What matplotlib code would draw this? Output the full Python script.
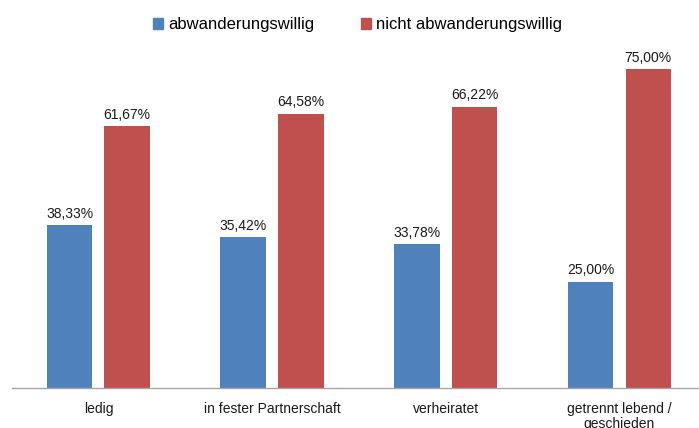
import numpy as np
import matplotlib
matplotlib.use("Agg")
import matplotlib.pyplot as plt
from matplotlib.patches import Patch

plt.rcParams["font.family"] = ["Liberation Sans", "DejaVu Sans"]

categories = ["ledig", "in fester Partnerschaft", "verheiratet",
              "getrennt lebend /\ngeschieden"]
series_names = ["abwanderungswillig", "nicht abwanderungswillig"]
willing = [38.33, 35.42, 33.78, 25.00]
not_willing = [61.67, 64.58, 66.22, 75.00]

BLUE = "#4F81BD"
RED = "#C0504D"

fig = plt.figure(figsize=(6.99, 4.28), dpi=100)
ax = fig.add_axes([0.0165, 0.0942, 0.9939, 0.7935])

x = np.arange(len(categories))
w = 0.262
b1 = ax.bar(x - 0.166, willing, w, color=BLUE)
b2 = ax.bar(x + 0.166, not_willing, w, color=RED)


def fmt(v):
    return f"{v:.2f}".replace(".", ",") + "%"


for bars, vals in ((b1, willing), (b2, not_willing)):
    for bar, v in zip(bars, vals):
        ax.annotate(fmt(v), (bar.get_x() + bar.get_width() / 2, v),
                    xytext=(0, 3), textcoords="offset points",
                    ha="center", va="bottom", fontsize=10, color="#1a1a1a")

ax.set_xlim(-0.5, len(categories) - 0.5)
ax.set_ylim(0, 80)
ax.set_xticks(x)
ax.set_xticklabels(categories, fontsize=10, color="#1a1a1a", linespacing=1.1)
ax.tick_params(axis="x", length=0, pad=10)
ax.set_yticks([])
for side in ("left", "right", "top"):
    ax.spines[side].set_visible(False)
ax.spines["bottom"].set_color("#A6A6A6")
ax.spines["bottom"].set_linewidth(1.0)

handles = [Patch(color=BLUE), Patch(color=RED)]
fig.legend(handles, series_names, loc="center", bbox_to_anchor=(0.512, 0.942),
           ncol=2, frameon=False, fontsize=12, handlelength=0.6,
           handleheight=0.6, handletextpad=0.3, columnspacing=2.8)

fig.savefig("out.png", dpi=100)
